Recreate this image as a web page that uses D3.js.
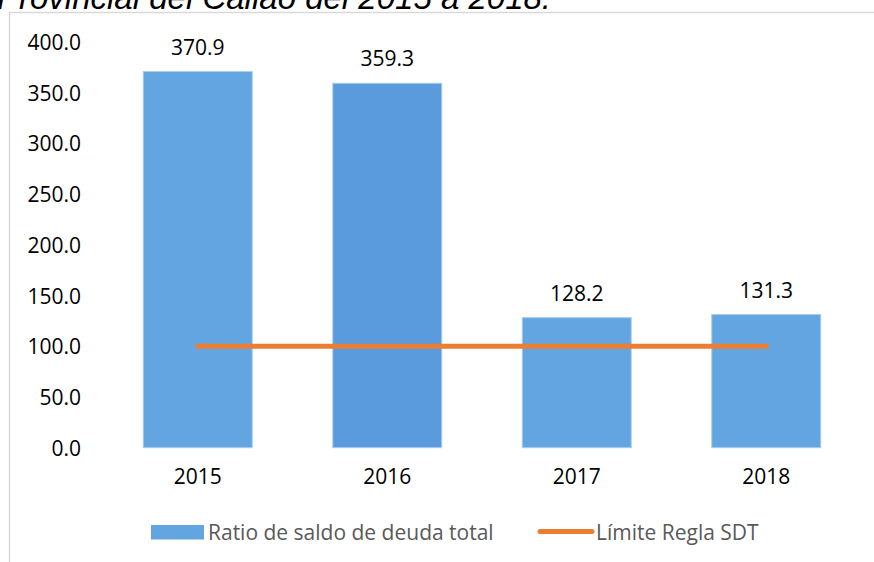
<!DOCTYPE html>
<html>
<head>
  <meta charset="utf-8">
  <title>Ratio de saldo de deuda total</title>
  <style>
    body { margin: 0; background: #fff; }
    text { font-family: "Open Sans", sans-serif; }
    .tick-label { font-size: 21px; fill: #000; }
    .value-label { font-size: 21px; fill: #000; }
    .legend-label { font-size: 21px; fill: #595959; }
  </style>
</head>
<body>
  <svg id="chart" width="874" height="562"></svg>

  <script src="https://d3js.org/d3.v7.min.js"></script>
  <script>
    // Data
    const years = ["2015", "2016", "2017", "2018"];
    const ratio = [370.9, 359.3, 128.2, 131.3];
    const limite = [100, 100, 100, 100];
    const yTicks = [0, 50, 100, 150, 200, 250, 300, 350, 400];
    const barColors = ["#63a5e0", "#5a9bdd", "#63a5e0", "#63a5e0"];

    const svg = d3.select("#chart");

    // Title line cut off at the top (as in the source picture)
    svg.append("text")
      .attr("x", -3)
      .attr("y", 8.5)
      .style("font-family", "'Liberation Sans', Arial, sans-serif")
      .style("font-style", "italic")
      .style("font-size", "33px")
      .attr("fill", "#000")
      .text("Provincial del Callao del 2015 a 2018.");

    // Chart frame
    svg.append("rect")
      .attr("x", 9.5)
      .attr("y", 12.5)
      .attr("width", 900)
      .attr("height", 600)
      .attr("fill", "none")
      .attr("stroke", "#d9d9d9")
      .attr("stroke-width", 1.5);

    // Scales
    const x = d3.scaleBand()
      .domain(years)
      .range([103, 861])
      .paddingInner(0.425)
      .paddingOuter(0.2125);

    const y = d3.scaleLinear()
      .domain([0, 400])
      .range([447.7, 42]);

    // Y axis labels
    const yAxis = d3.axisLeft(y)
      .tickValues(yTicks)
      .tickFormat(d3.format(".1f"))
      .tickSize(0)
      .tickPadding(0);

    const yg = svg.append("g")
      .attr("transform", "translate(81,0)")
      .call(yAxis);
    yg.select(".domain").remove();
    yg.selectAll("text")
      .attr("class", "tick-label")
      .attr("dy", "0.36em")
      .attr("fill", "#000")
      .style("font-family", "'Open Sans', sans-serif")
      .style("font-size", "21px");

    // X axis labels
    const xAxis = d3.axisBottom(x)
      .tickSize(0)
      .tickPadding(0);

    const xg = svg.append("g")
      .attr("transform", "translate(0,447.7)")
      .call(xAxis);
    xg.select(".domain").remove();
    xg.selectAll("text")
      .attr("y", 36.5)
      .attr("dy", 0)
      .attr("fill", "#000")
      .style("font-family", "'Open Sans', sans-serif")
      .style("font-size", "21px");

    // Bars
    svg.selectAll(".bar")
      .data(ratio)
      .enter().append("rect")
      .attr("class", "bar")
      .attr("x", (d, i) => x(years[i]))
      .attr("y", d => y(d))
      .attr("width", x.bandwidth())
      .attr("height", d => y(0) - y(d))
      .attr("fill", (d, i) => barColors[i])
      .attr("stroke", "#a8cdef")
      .attr("stroke-width", 1);

    // Value labels
    svg.selectAll(".value-label")
      .data(ratio)
      .enter().append("text")
      .attr("class", "value-label")
      .attr("x", (d, i) => x(years[i]) + x.bandwidth() / 2)
      .attr("y", d => y(d) - 17)
      .attr("text-anchor", "middle")
      .text(d => d.toFixed(1));

    // Limit line
    const line = d3.line()
      .x((d, i) => x(years[i]) + x.bandwidth() / 2)
      .y(d => y(d));

    svg.append("path")
      .datum(limite)
      .attr("d", line)
      .attr("fill", "none")
      .attr("stroke", "#ed7d31")
      .attr("stroke-width", 5)
      .attr("stroke-linecap", "round");

    // Legend
    const legend = svg.append("g");
    legend.append("rect")
      .attr("x", 151)
      .attr("y", 525)
      .attr("width", 53)
      .attr("height", 14.5)
      .attr("fill", "#63a5e0");
    legend.append("text")
      .attr("class", "legend-label")
      .attr("x", 208)
      .attr("y", 539.5)
      .text("Ratio de saldo de deuda total");

    legend.append("line")
      .attr("x1", 540)
      .attr("x2", 592)
      .attr("y1", 531.5)
      .attr("y2", 531.5)
      .attr("stroke", "#ed7d31")
      .attr("stroke-width", 5)
      .attr("stroke-linecap", "round");
    legend.append("text")
      .attr("class", "legend-label")
      .attr("x", 596)
      .attr("y", 539.5)
      .text("Límite Regla SDT");
  </script>
</body>
</html>
